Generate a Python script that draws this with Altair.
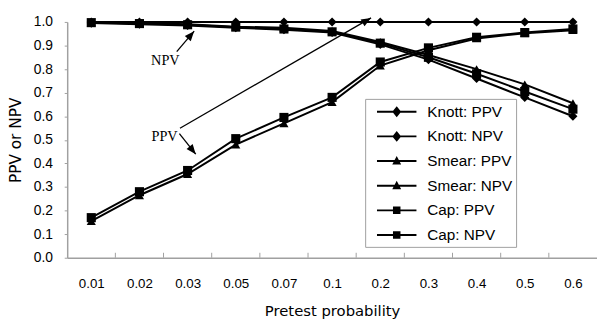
import json
import math
import altair as alt
import pandas as pd

# ---------------- data ----------------
categories = ["0.01", "0.02", "0.03", "0.05", "0.07", "0.1", "0.2", "0.3", "0.4", "0.5", "0.6"]
series_names = ["Knott: PPV", "Knott: NPV", "Smear: PPV", "Smear: NPV", "Cap: PPV", "Cap: NPV"]

knott_ppv = [1.0, 1.0, 1.0, 1.0, 1.0, 1.0, 1.0, 1.0, 1.0, 1.0, 1.0]
knott_npv = [0.995, 0.99, 0.985, 0.975, 0.967, 0.955, 0.905, 0.84, 0.76, 0.68, 0.60]
smear_ppv = [0.155, 0.265, 0.355, 0.48, 0.57, 0.66, 0.815, 0.88, 0.93, 0.952, 0.965]
smear_npv = [0.998, 0.995, 0.99, 0.98, 0.975, 0.962, 0.915, 0.86, 0.80, 0.735, 0.655]
cap_ppv = [0.17, 0.28, 0.37, 0.505, 0.595, 0.68, 0.83, 0.89, 0.935, 0.955, 0.97]
cap_npv = [0.997, 0.993, 0.988, 0.978, 0.97, 0.958, 0.91, 0.85, 0.78, 0.705, 0.63]

y_ticks = [0.0, 0.1, 0.2, 0.3, 0.4, 0.5, 0.6, 0.7, 0.8, 0.9, 1.0]

# annotations (in data units: x = category index, y = value)
note_text = ["NPV", "PPV"]
note_x = [1.538, 1.521]
note_y = [0.833, 0.510]

arrow_x_start = [1.774, 1.841, 1.829]
arrow_y_start = [0.874, 0.549, 0.526]
arrow_x_end = [2.136, 5.809, 2.169]
arrow_y_end = [0.961, 1.017, 0.439]

# ---------------- layout / style ----------------
W, H = 537, 239
PAD = {"left": 60, "top": 12, "right": 0, "bottom": 61}
FONT = "Liberation Sans"
GRAY = "#a0a0a0"

shapes = ["diamond", "diamond", "triangle-up", "triangle-up", "square", "square"]
sizes = [85, 85, 80, 80, 70, 70]

# legend symbol paths (line + marker), unit = sqrt(size)/2
LEG_SIZE = 400
line_p = "M-2,-0.1H2V0.1H-2Z"
diamond_p = line_p + "M0,-0.55L0.45,0L0,0.55L-0.45,0Z"
tri_p = line_p + "M0,-0.5L0.45,0.35L-0.45,0.35Z"
square_p = line_p + "M-0.38,-0.38H0.38V0.38H-0.38Z"
legend_shapes = [diamond_p, diamond_p, tri_p, tri_p, square_p, square_p]

all_vals = [knott_ppv, knott_npv, smear_ppv, smear_npv, cap_ppv, cap_npv]
rows = []
for name, vals in zip(series_names, all_vals):
    for i, v in enumerate(vals):
        rows.append({"series": name, "idx": i, "value": v})
df = pd.DataFrame(rows)

x_scale = alt.Scale(domain=[-0.5, len(categories) - 0.5], nice=False, zero=False)
y_scale = alt.Scale(domain=[0, 1], nice=False, zero=False)

label_expr = json.dumps(categories) + "[datum.value]"

x_axis = alt.Axis(
    values=list(range(len(categories))),
    labelExpr=label_expr,
    labelOverlap=False,
    ticks=False,
    tickSize=0,
    grid=False,
    domainColor=GRAY,
    domainWidth=1.5,
    labelFont=FONT,
    labelFontSize=13.5,
    labelColor="black",
    labelPadding=19,
    title="Pretest probability",
    titleFont="DejaVu Sans",
    titleFontSize=15,
    titleFontWeight="normal",
    titleColor="black",
    titlePadding=14,
)
y_axis = alt.Axis(
    values=y_ticks,
    format=".1f",
    labelOverlap=False,
    grid=False,
    domainColor=GRAY,
    domainWidth=1.5,
    tickColor=GRAY,
    tickSize=3,
    labelFont=FONT,
    labelFontSize=14,
    labelColor="black",
    labelPadding=12,
    title="PPV or NPV",
    titleFont="DejaVu Sans",
    titleFontSize=15.5,
    titleFontWeight="normal",
    titleColor="black",
    titlePadding=10,
)


def X(field):
    return alt.X(field, scale=x_scale, axis=x_axis)


def Y(field):
    return alt.Y(field, scale=y_scale, axis=y_axis)


base = alt.Chart(df)

lines = base.mark_line(color="black", strokeWidth=2).encode(
    x=X("idx:Q"), y=Y("value:Q"), detail="series:N"
)

points = base.mark_point(filled=True, opacity=1, color="black").encode(
    x=X("idx:Q"),
    y=Y("value:Q"),
    shape=alt.Shape(
        "series:N",
        scale=alt.Scale(domain=series_names, range=shapes),
        legend=None,
    ),
    size=alt.Size(
        "series:N",
        scale=alt.Scale(domain=series_names, range=sizes),
        legend=None,
    ),
)

# invisible layer that only carries the legend (line + marker symbols)
legend_layer = base.mark_point(filled=True, opacity=0, color="black").encode(
    x=X("idx:Q"),
    y=Y("value:Q"),
    shape=alt.Shape(
        "series:N",
        scale=alt.Scale(domain=series_names, range=legend_shapes),
        legend=alt.Legend(
            title=None,
            orient="none",
            legendX=302,
            legendY=78,
            direction="vertical",
            fillColor="white",
            strokeColor=GRAY,
            padding=3,
            labelFont=FONT,
            labelFontSize=15.5,
            labelColor="black",
            labelOffset=21,
            symbolOffset=19,
            symbolSize=LEG_SIZE,
            symbolFillColor="black",
            symbolStrokeColor="black",
            symbolStrokeWidth=0,
            symbolOpacity=1,
            rowPadding=6,
        ),
    ),
)

# inward x ticks at category boundaries
bounds_df = pd.DataFrame({"b": [i + 0.5 for i in range(len(categories) - 1)]})
xticks = alt.Chart(bounds_df).mark_rule(color=GRAY, strokeWidth=1).encode(
    x=X("b:Q"), y=alt.value(H), y2=alt.value(H - 5)
)

notes_df = pd.DataFrame({"t": note_text, "x": note_x, "y": note_y})
notes = alt.Chart(notes_df).mark_text(
    font="Liberation Serif", fontSize=14.5, color="black"
).encode(x=X("x:Q"), y=Y("y:Q"), text="t:N")

px_x = W / len(categories)
px_y = H
angles = []
for xs, ys, xe, ye in zip(arrow_x_start, arrow_y_start, arrow_x_end, arrow_y_end):
    dx = (xe - xs) * px_x
    dy = -(ye - ys) * px_y
    angles.append(math.degrees(math.atan2(dx, -dy)) % 360)

arrows_df = pd.DataFrame({
    "xs": arrow_x_start, "ys": arrow_y_start,
    "xe": arrow_x_end, "ye": arrow_y_end, "ang": angles,
})
shafts = alt.Chart(arrows_df).mark_rule(color="black", strokeWidth=1.3).encode(
    x=X("xs:Q"), y=Y("ys:Q"), x2="xe:Q", y2="ye:Q",
)
heads = alt.Chart(arrows_df).mark_point(
    filled=True, opacity=1, color="black", shape="M0,0L0.75,1.9L-0.75,1.9Z", size=110
).encode(
    x=X("xe:Q"), y=Y("ye:Q"),
    angle=alt.Angle("ang:Q", scale=None),
)

chart = (
    alt.layer(lines, points, legend_layer, xticks, shafts, heads, notes)
    .resolve_scale(shape="independent", size="independent")
    .properties(
        width=W,
        height=H,
        autosize=alt.AutoSizeParams(type="none"),
        padding=PAD,
        background="white",
    )
    .configure_view(stroke=None)
)

chart.save("out.html", embed_options={"renderer": "svg", "actions": False})
